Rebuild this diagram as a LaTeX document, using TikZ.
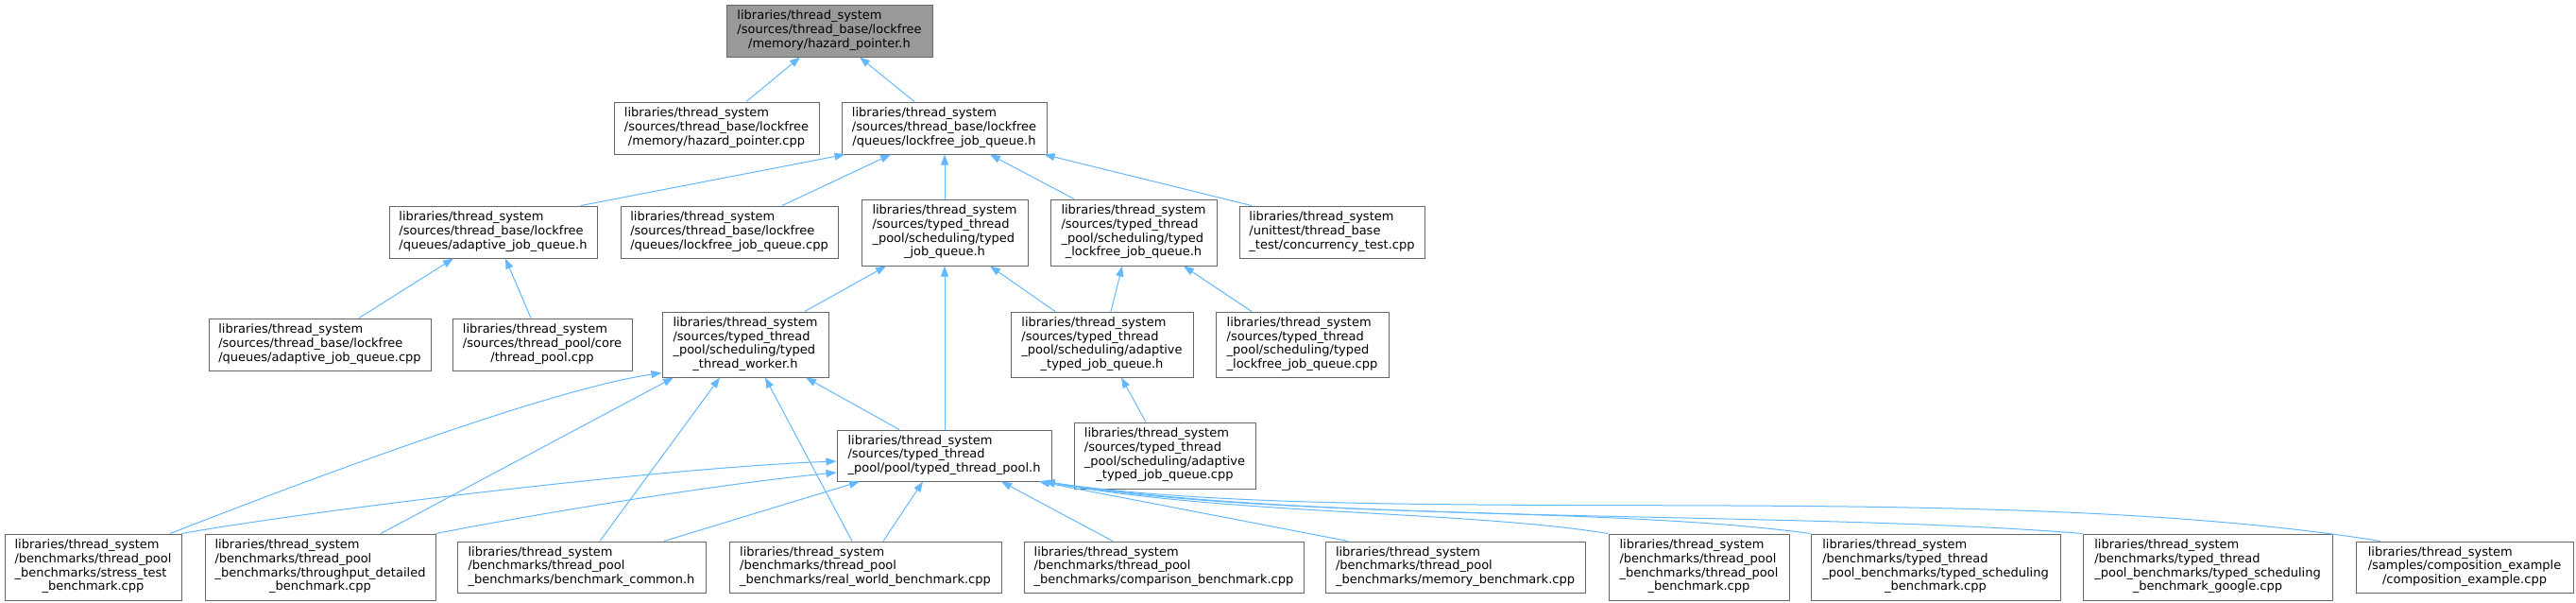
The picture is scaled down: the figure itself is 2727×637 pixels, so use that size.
\documentclass[tikz,border=0pt]{standalone}
\usepackage{fontspec}
\setmainfont{DejaVu Sans}
\usetikzlibrary{arrows.meta}
\definecolor{edgeblue}{HTML}{63B8FF}
\definecolor{boxgray}{HTML}{666666}
\definecolor{rootgray}{HTML}{999999}
\newcommand{\flines}[2]{\begin{tabular}{@{}l@{}}#1\\\multicolumn{1}{@{}c@{}}{#2}\end{tabular}}

\begin{document}
\begin{tikzpicture}[x=1pt, y=-1pt, >={Triangle[length=11pt,width=8pt]}, font=\fontsize{13}{14.7}\selectfont,
  file/.style={draw=boxgray, fill=white, line width=1pt, inner sep=0pt},
  dep/.style={->, color=edgeblue, line width=1pt}]
  \useasboundingbox (0,0) rectangle (2727,637);
  \node[file, fill=rootgray, minimum width=218pt, minimum height=55pt] (hazardh) at (878,32.5) {\flines{libraries/thread\_system\\/sources/thread\_base/lockfree}{/memory/hazard\_pointer.h}};
  \node[file, minimum width=217pt, minimum height=55pt] (hazardcpp) at (758.5,135.5) {\flines{libraries/thread\_system\\/sources/thread\_base/lockfree}{/memory/hazard\_pointer.cpp}};
  \node[file, minimum width=217pt, minimum height=55pt] (lfqh) at (999.5,135.5) {\flines{libraries/thread\_system\\/sources/thread\_base/lockfree}{/queues/lockfree\_job\_queue.h}};
  \node[file, minimum width=220pt, minimum height=55pt] (ajqh) at (522,245.5) {\flines{libraries/thread\_system\\/sources/thread\_base/lockfree}{/queues/adaptive\_job\_queue.h}};
  \node[file, minimum width=230pt, minimum height=55pt] (lfqcpp) at (772,245.5) {\flines{libraries/thread\_system\\/sources/thread\_base/lockfree}{/queues/lockfree\_job\_queue.cpp}};
  \node[file, minimum width=176pt, minimum height=70pt] (tjqh) at (1000,246) {\flines{libraries/thread\_system\\/sources/typed\_thread\\\_pool/scheduling/typed}{\_job\_queue.h}};
  \node[file, minimum width=176pt, minimum height=70pt] (tlfqh) at (1200,246) {\flines{libraries/thread\_system\\/sources/typed\_thread\\\_pool/scheduling/typed}{\_lockfree\_job\_queue.h}};
  \node[file, minimum width=196pt, minimum height=55pt] (conctest) at (1410,245.5) {\flines{libraries/thread\_system\\/unittest/thread\_base}{\_test/concurrency\_test.cpp}};
  \node[file, minimum width=235pt, minimum height=55pt] (ajqcpp) at (338.5,364.5) {\flines{libraries/thread\_system\\/sources/thread\_base/lockfree}{/queues/adaptive\_job\_queue.cpp}};
  \node[file, minimum width=190pt, minimum height=55pt] (tpcpp) at (574,364.5) {\flines{libraries/thread\_system\\/sources/thread\_pool/core}{/thread\_pool.cpp}};
  \node[file, minimum width=176pt, minimum height=69pt] (worker) at (789,364.5) {\flines{libraries/thread\_system\\/sources/typed\_thread\\\_pool/scheduling/typed}{\_thread\_worker.h}};
  \node[file, minimum width=193pt, minimum height=69pt] (atjqh) at (1166.5,364.5) {\flines{libraries/thread\_system\\/sources/typed\_thread\\\_pool/scheduling/adaptive}{\_typed\_job\_queue.h}};
  \node[file, minimum width=183pt, minimum height=69pt] (tlfqcpp) at (1378.5,364.5) {\flines{libraries/thread\_system\\/sources/typed\_thread\\\_pool/scheduling/typed}{\_lockfree\_job\_queue.cpp}};
  \node[file, minimum width=227pt, minimum height=54pt] (pool) at (999.5,482) {\flines{libraries/thread\_system\\/sources/typed\_thread}{\_pool/pool/typed\_thread\_pool.h}};
  \node[file, minimum width=192pt, minimum height=70pt] (atjqcpp) at (1233,482) {\flines{libraries/thread\_system\\/sources/typed\_thread\\\_pool/scheduling/adaptive}{\_typed\_job\_queue.cpp}};
  \node[file, minimum width=187pt, minimum height=70pt] (stress) at (98.5,600) {\flines{libraries/thread\_system\\/benchmarks/thread\_pool\\\_benchmarks/stress\_test}{\_benchmark.cpp}};
  \node[file, minimum width=244pt, minimum height=70pt] (thruput) at (339,600) {\flines{libraries/thread\_system\\/benchmarks/thread\_pool\\\_benchmarks/throughput\_detailed}{\_benchmark.cpp}};
  \node[file, minimum width=263pt, minimum height=54pt] (common) at (615.5,600) {\flines{libraries/thread\_system\\/benchmarks/thread\_pool}{\_benchmarks/benchmark\_common.h}};
  \node[file, minimum width=288pt, minimum height=54pt] (realworld) at (916,600) {\flines{libraries/thread\_system\\/benchmarks/thread\_pool}{\_benchmarks/real\_world\_benchmark.cpp}};
  \node[file, minimum width=296pt, minimum height=54pt] (compare) at (1232,600) {\flines{libraries/thread\_system\\/benchmarks/thread\_pool}{\_benchmarks/comparison\_benchmark.cpp}};
  \node[file, minimum width=275pt, minimum height=54pt] (memory) at (1540.5,600) {\flines{libraries/thread\_system\\/benchmarks/thread\_pool}{\_benchmarks/memory\_benchmark.cpp}};
  \node[file, minimum width=191pt, minimum height=70pt] (tpbench) at (1798.5,600) {\flines{libraries/thread\_system\\/benchmarks/thread\_pool\\\_benchmarks/thread\_pool}{\_benchmark.cpp}};
  \node[file, minimum width=264pt, minimum height=70pt] (tsched) at (2049,600) {\flines{libraries/thread\_system\\/benchmarks/typed\_thread\\\_pool\_benchmarks/typed\_scheduling}{\_benchmark.cpp}};
  \node[file, minimum width=264pt, minimum height=70pt] (tgoogle) at (2337,600) {\flines{libraries/thread\_system\\/benchmarks/typed\_thread\\\_pool\_benchmarks/typed\_scheduling}{\_benchmark\_google.cpp}};
  \node[file, minimum width=230pt, minimum height=54pt] (compos) at (2609,600) {\flines{libraries/thread\_system\\/samples/composition\_example}{/composition\_example.cpp}};
  \draw[dep] ([xshift=31.5pt]hazardcpp.north) -- ([xshift=-31pt]hazardh.south);
  \draw[dep] ([xshift=-31.5pt]lfqh.north) -- ([xshift=32pt]hazardh.south);
  \draw[dep] ([xshift=93pt]ajqh.north) -- ([xshift=-105pt]lfqh.south);
  \draw[dep] ([xshift=56pt]lfqcpp.north) -- ([xshift=-56.5pt]lfqh.south);
  \draw[dep] (tjqh.north) -- ([xshift=0.5pt]lfqh.south);
  \draw[dep] ([xshift=-63pt]tlfqh.north) -- ([xshift=48.5pt]lfqh.south);
  \draw[dep] ([xshift=-85pt]conctest.north) -- ([xshift=106pt]lfqh.south);
  \draw[dep] ([xshift=41.5pt]ajqcpp.north) -- ([xshift=-42pt]ajqh.south);
  \draw[dep] ([xshift=-12pt]tpcpp.north) -- ([xshift=13pt]ajqh.south);
  \draw[dep] ([xshift=63pt]worker.north) -- ([xshift=-62pt]tjqh.south);
  \draw[dep] ([xshift=-49.5pt]atjqh.north) -- ([xshift=48pt]tjqh.south);
  \draw[dep] ([xshift=0.5pt]pool.north) -- (tjqh.south);
  \draw[dep] ([xshift=9.5pt]atjqh.north) -- ([xshift=-12pt]tlfqh.south);
  \draw[dep] ([xshift=-53.5pt]tlfqcpp.north) -- ([xshift=53pt]tlfqh.south);
  \draw[dep] ([xshift=-20pt]atjqcpp.north) -- ([xshift=20.5pt]atjqh.south);
  \draw[dep] ([xshift=-47.5pt]pool.north) -- ([xshift=64pt]worker.south);
  \draw[dep] ([xshift=81.5pt]stress.north) .. controls (320,510) and (580,412) .. ([yshift=5pt]worker.south west);
  \draw[dep] ([xshift=64pt]thruput.north) -- ([xshift=-76pt]worker.south);
  \draw[dep] ([xshift=19.5pt]common.north) -- ([xshift=-27pt]worker.south);
  \draw[dep] ([xshift=-14pt]realworld.north) -- ([xshift=21pt]worker.south);
  \draw[dep] (stress.north east) .. controls (330,540) and (700,495) .. ([yshift=-6pt]pool.west);
  \draw[dep] (thruput.north east) .. controls (560,545) and (760,512) .. ([yshift=-18pt]pool.west);
  \draw[dep] ([xshift=87.5pt]common.north) -- ([xshift=-89.5pt]pool.south);
  \draw[dep] ([xshift=19pt]realworld.north) -- ([xshift=-22.5pt]pool.south);
  \draw[dep] ([xshift=-54pt]compare.north) -- ([xshift=60.5pt]pool.south);
  \draw[dep] ([xshift=-113.5pt]memory.north) -- ([xshift=100.5pt]pool.south);
  \draw[dep] (tpbench.north west) .. controls (1550,540) and (1300,545) .. ([xshift=-8pt]pool.south east);
  \draw[dep] (tsched.north west) .. controls (1700,535) and (1350,550) .. ([xshift=-8pt]pool.south east);
  \draw[dep] (tgoogle.north west) .. controls (1900,540) and (1400,555) .. ([xshift=-8pt]pool.south east);
  \draw[dep] ([xshift=-89pt]compos.north) .. controls (2100,505) and (1450,560) .. ([xshift=-8pt]pool.south east);
\end{tikzpicture}
\end{document}
